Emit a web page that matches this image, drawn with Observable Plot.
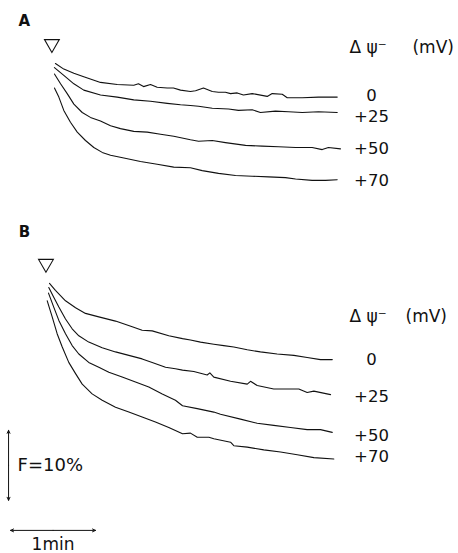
<!DOCTYPE html>
<html>
<head>
<meta charset="utf-8">
<script src="https://cdn.jsdelivr.net/npm/d3@7"></script>
<script src="https://cdn.jsdelivr.net/npm/@observablehq/plot@0.6"></script>
<style>
  html, body { margin: 0; padding: 0; background: #fff; }
  #chart { width: 458px; height: 553px; }
</style>
</head>
<body>
<div id="chart"></div>
<script>
// Time (s) after addition, relative fluorescence F (%) with the recorder offset of each trace
const traceA0 = [[4.9,70.0],[10.8,69.2],[17.9,68.6],[24.9,68.1],[36.7,67.3],[48.5,67.0],[60.2,66.9],[63.5,67.1],[67.1,66.7],[72.0,67.0],[76.7,66.6],[83.8,66.5],[88.2,66.5],[93.2,66.2],[100.2,66.0],[103.8,66.1],[109.4,66.5],[115.6,66.0],[120.0,65.9],[124.9,65.9],[128.5,65.7],[133.2,65.8],[137.6,65.5],[143.8,65.7],[154.4,65.3],[157.9,65.7],[165.0,65.6],[168.5,65.1],[179.1,65.1],[190.6,65.2],[203.8,65.2]];
const traceA25 = [[4.2,69.4],[10.8,68.3],[17.9,67.1],[24.9,66.2],[36.7,65.5],[48.5,65.2],[60.2,64.8],[72.0,64.6],[83.8,64.3],[93.2,64.1],[100.2,64.0],[105.9,63.9],[115.6,63.6],[127.1,63.5],[134.1,63.3],[143.8,63.4],[149.6,63.0],[160.2,63.2],[169.4,63.1],[179.1,63.0],[190.6,63.1],[203.8,63.0]];
const traceA50 = [[4.2,68.5],[8.5,67.1],[13.2,65.7],[17.9,64.2],[23.8,63.0],[29.6,62.3],[36.7,61.8],[43.8,61.1],[50.8,60.7],[60.2,60.3],[69.7,60.2],[79.1,59.9],[88.4,59.6],[100.2,59.1],[105.9,58.9],[115.6,59.0],[124.9,58.7],[139.1,58.3],[150.8,58.2],[162.4,58.1],[174.4,58.0],[186.1,58.0],[193.2,57.7],[197.6,58.0],[206.1,57.8]];
const traceA70 = [[4.2,66.5],[7.3,65.2],[10.8,63.3],[15.5,61.6],[20.3,60.2],[26.1,59.0],[32.0,58.0],[37.9,57.3],[43.8,56.9],[53.2,56.5],[64.9,56.0],[76.7,55.6],[88.4,55.2],[100.2,55.1],[108.5,54.7],[120.0,54.3],[132.0,54.0],[143.8,53.9],[155.3,53.8],[167.3,53.7],[174.4,53.5],[186.1,53.3],[195.5,53.3],[203.8,53.4]];
const traceB0 = [[0.7,38.6],[4.9,37.6],[12.0,36.1],[19.1,35.1],[26.1,34.3],[35.5,33.8],[47.3,33.2],[59.1,32.4],[66.1,31.9],[73.2,31.8],[84.9,31.1],[94.6,30.7],[100.2,30.5],[107.3,30.2],[116.7,29.9],[123.7,29.7],[130.8,29.5],[140.3,29.1],[149.6,28.8],[161.4,28.5],[173.2,28.3],[182.6,28.0],[192.0,27.7],[200.3,27.7]];
const traceB25 = [[0.2,38.0],[3.7,36.6],[7.3,35.2],[12.0,33.5],[16.7,32.1],[21.4,31.1],[28.4,30.2],[37.9,29.4],[47.3,28.8],[56.7,28.3],[66.1,27.8],[73.2,27.3],[82.6,26.6],[89.6,26.4],[94.6,26.2],[102.6,26.0],[112.0,25.5],[113.9,25.8],[116.7,25.2],[128.5,24.6],[140.3,24.2],[142.6,24.6],[147.3,24.0],[159.0,23.5],[168.5,23.5],[176.7,23.5],[182.6,23.0],[187.3,23.2],[199.1,22.7]];
const traceB50 = [[0.0,37.2],[3.7,35.2],[7.3,33.3],[12.0,31.4],[16.7,29.7],[21.4,28.5],[28.4,27.3],[35.5,26.6],[42.6,25.9],[52.0,25.2],[61.4,24.5],[70.8,23.8],[80.3,22.8],[89.6,21.9],[94.6,21.1],[105.0,20.7],[116.7,20.2],[121.4,19.9],[135.5,19.2],[147.3,18.6],[159.0,18.3],[170.8,18.0],[182.6,17.7],[192.0,17.7],[200.3,17.3]];
const traceB70 = [[-0.9,36.1],[2.6,33.8],[6.1,31.4],[9.7,29.5],[14.3,27.3],[19.1,25.7],[23.8,24.2],[30.8,22.8],[37.9,21.9],[47.3,20.9],[56.7,20.2],[66.1,19.5],[75.5,18.8],[84.9,18.0],[94.6,17.1],[100.2,17.2],[105.0,16.6],[113.2,16.6],[116.7,16.4],[128.5,15.9],[130.8,15.4],[140.3,15.2],[152.0,14.8],[163.8,14.5],[175.6,14.1],[187.3,13.7],[201.4,13.5]];

const panels = ["A", "B"];
const potentials = ["0", "+25", "+50", "+70"];   // Δψ (mV)
const scaleF = 10;    // %
const scaleT = 60;    // s (1 min)

const tracesByPanel = {
  A: [traceA0, traceA25, traceA50, traceA70],
  B: [traceB0, traceB25, traceB50, traceB70]
};

// Layout (pixel offsets for labels, not data)
const labelDy = {A: [-1, 4, 0, 1], B: [0, 2, 3, -2]};

// Build tidy tables
const rows = [];
const ends = [];
const triggers = [];
for (const p of panels) {
  tracesByPanel[p].forEach((tr, i) => {
    tr.forEach(([t, f]) => rows.push({panel: p, id: p + i, t, f}));
    const last = tr[tr.length - 1];
    ends.push({panel: p, label: potentials[i], t: last[0], f: last[1], dy: labelDy[p][i]});
  });
  const top = tracesByPanel[p][0][0];
  triggers.push({panel: p, t: top[0] - 2.5, f: top[1] + 2.8});
}

const pxPerSec = 85 / 60, x0px = 48, pxPerPct = 7;
const W = 458, H = 553;
const labelT = 228;
const headers = [
  {panel: "A", f: 72.3, mvT: 256.9},
  {panel: "B", f: 33.9, mvT: 252.0}
];
const panelLabels = [{text: "A", f: 76.0}, {text: "B", f: 45.9}];
const barT = -28.2, barF0 = 7.6;
const hbarF = 3.3, hbarT0 = -26.8;

const font = "DejaVu Sans";
const ink = "#111";

// scale bars drawn as two arrows from the bar midpoint outward
const vMid = barF0 + scaleF / 2, hMid = hbarT0 + scaleT / 2;
const vArrows = [{y1: vMid, y2: barF0 + scaleF}, {y1: vMid, y2: barF0}];
const hArrows = [{x1: hMid, x2: hbarT0 + scaleT}, {x1: hMid, x2: hbarT0}];

const chart = Plot.plot({
  width: W,
  height: H,
  margin: 0,
  style: {fontFamily: font, background: "#fff", color: ink},
  x: {domain: [-x0px / pxPerSec, (W - x0px) / pxPerSec], range: [0, W], axis: null},
  y: {domain: [0, H / pxPerPct], range: [H, 0], axis: null},
  marks: [
    Plot.line(rows, {x: "t", y: "f", z: "id", stroke: ink, strokeWidth: 1.1}),
    Plot.dot(triggers, {x: "t", y: "f", symbol: "triangle", rotate: 180, r: 5.5, stroke: ink, fill: "white", strokeWidth: 1.1}),
    ...ends.map(e => Plot.text([e], {x: () => labelT, y: "f", text: "label", fontSize: 16.5, textAnchor: "middle", lineAnchor: "middle", fill: ink, dy: e.dy})),
    Plot.text(headers, {x: () => 212.5, y: "f", text: () => "Δ ψ⁻", fontSize: 17, textAnchor: "start", lineAnchor: "middle", fill: ink}),
    Plot.text(headers, {x: "mvT", y: "f", text: () => "(mV)", fontSize: 17, textAnchor: "start", lineAnchor: "middle", fill: ink}),
    Plot.text(panelLabels, {x: () => -17.0, y: "f", text: "text", fontSize: 15, fontWeight: "bold", textAnchor: "middle", lineAnchor: "middle", fill: ink}),
    // scale bars
    Plot.arrow(vArrows, {x1: () => barT, x2: () => barT, y1: "y1", y2: "y2", stroke: ink, strokeWidth: 1, headLength: 5, headAngle: 50}),
    Plot.text([{t: barT + 6.4, f: vMid, s: "F=" + scaleF + "%"}], {x: "t", y: "f", text: "s", fontSize: 18, textAnchor: "start", lineAnchor: "middle", fill: ink}),
    Plot.arrow(hArrows, {x1: "x1", x2: "x2", y1: () => hbarF, y2: () => hbarF, stroke: ink, strokeWidth: 1, headLength: 5, headAngle: 50}),
    Plot.text([{t: hMid, f: hbarF, s: scaleT / 60 + "min"}], {x: "t", y: "f", text: "s", fontSize: 17, textAnchor: "middle", lineAnchor: "middle", fill: ink, dy: 14})
  ]
});
document.getElementById("chart").append(chart);
</script>
</body>
</html>
